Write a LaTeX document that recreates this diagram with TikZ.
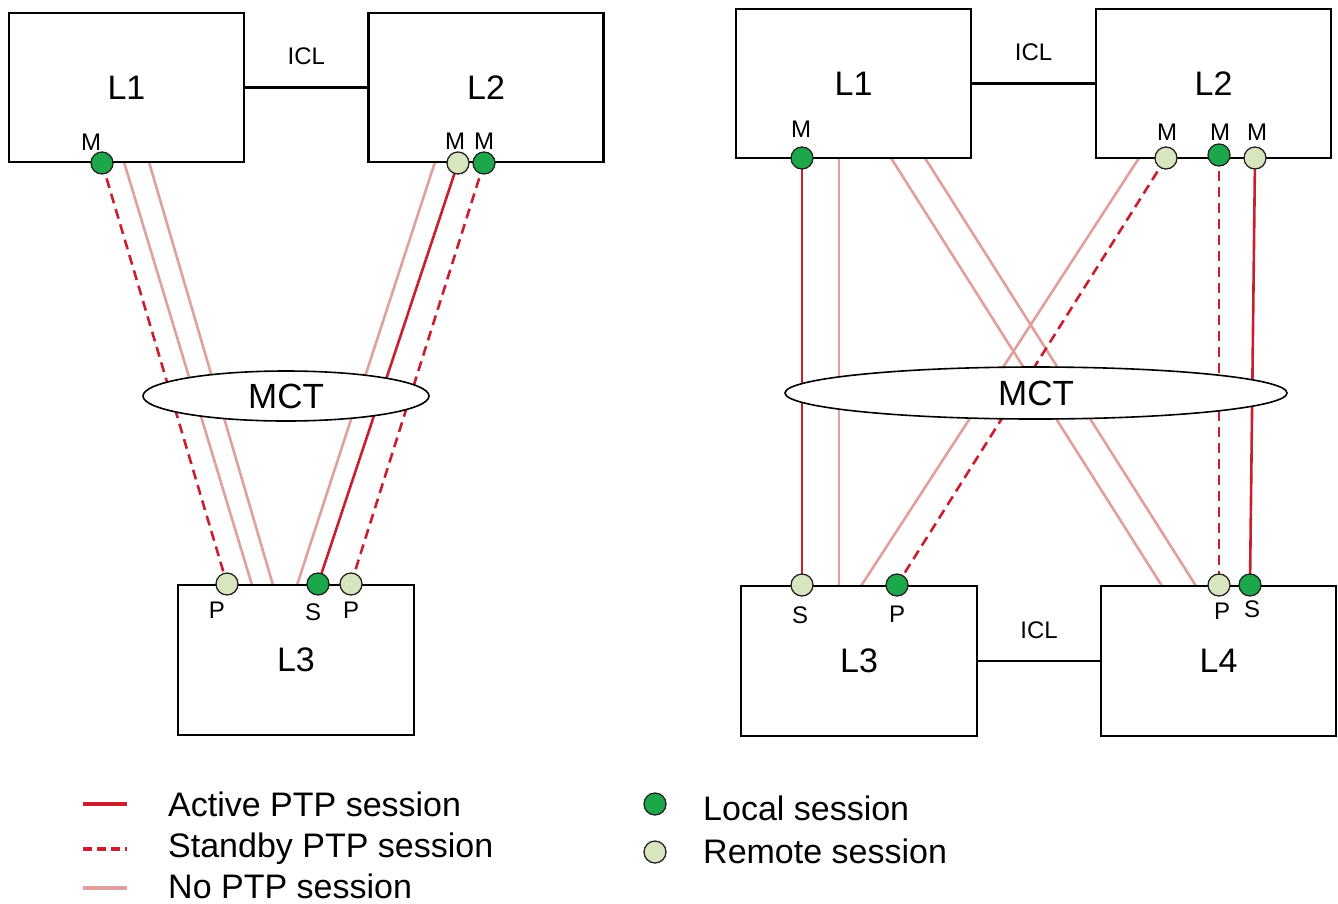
\documentclass[tikz,border=0pt]{standalone}
\usepackage{fontspec}
\setmainfont{Liberation Sans}
\usetikzlibrary{shapes.geometric,backgrounds}
\definecolor{activered}{RGB}{200,30,45}
\definecolor{noptp}{RGB}{225,160,155}
\definecolor{localgreen}{RGB}{28,168,74}
\definecolor{remotegreen}{RGB}{216,230,192}
\definecolor{dotline}{RGB}{35,35,35}
\begin{document}
\begin{tikzpicture}[x=1pt,y=-1pt,
  box/.style={draw=black, line width=2.6pt, fill=white, rectangle, inner sep=0pt,
    minimum width=235pt, minimum height=149pt, font=\fontsize{34}{40}\selectfont},
  icl/.style={black, line width=2.6pt},
  icllabel/.style={above=21pt, inner sep=0pt, font=\fontsize{24}{28}\selectfont},
  mct/.style={ellipse, draw=black, line width=1.6pt, fill=white, inner sep=0pt,
    font=\fontsize{35}{40}\selectfont},
  ldot/.style={circle, draw=dotline, line width=1.3pt, fill=localgreen, minimum size=22pt, inner sep=0pt},
  rdot/.style={circle, draw=dotline, line width=1.3pt, fill=remotegreen, minimum size=22pt, inner sep=0pt},
  lbl/.style={inner sep=0pt, font=\fontsize{24}{28}\selectfont},
  active/.style={draw=activered, line width=2.6pt},
  standby/.style={draw=activered, line width=2.6pt, dash pattern=on 10pt off 6pt},
  nosess/.style={draw=noptp, line width=2.6pt},
  leg/.style={inner sep=0pt, anchor=base west, font=\fontsize{34}{38}\selectfont}
]
\useasboundingbox (0,0) rectangle (1338,903);

% ---------------- left diagram ----------------
\node[box] (A1) at (126.5,87.5) {L1};
\node[box] (A2) at (486,87.5) {L2};
\node[box, minimum width=236pt, minimum height=150pt] (A3) at (296,660) {L3};
\draw[icl] (A1.east) -- node[icllabel] (iclA) {ICL} (A2.west);

\node[ldot] (a1m) at (102,163) {};
\node[rdot] (a2m1) at (458,163) {};
\node[ldot] (a2m2) at (484,163) {};
\node[rdot] (a3p1) at (227,584) {};
\node[ldot] (a3s) at (318,584) {};
\node[rdot] (a3p2) at (351,584) {};

\coordinate (a1n1) at (124,162);
\coordinate (a1n2) at (149,162);
\coordinate (a2n) at (435,162);
\coordinate (a3n1) at (252,585);
\coordinate (a3n2) at (273,585);
\coordinate (a3n3) at (297,585);

\node[lbl] (ta1m) at (91,142) {M};
\node[lbl] (ta2m1) at (455,141) {M};
\node[lbl] (ta2m2) at (484,141) {M};
\node[lbl] (ta3p1) at (217,610) {P};
\node[lbl] (ta3s) at (313,612) {S};
\node[lbl] (ta3p2) at (351,610) {P};

\node[mct, minimum width=286pt, minimum height=50pt] (mctA) at (286,396) {MCT};

% ---------------- right diagram ----------------
\node[box] (B1) at (853.5,83.5) {L1};
\node[box] (B2) at (1213.5,83.5) {L2};
\node[box, minimum width=236pt, minimum height=150pt] (B3) at (859,661) {L3};
\node[box, minimum width=235pt, minimum height=150pt] (B4) at (1218.5,661) {L4};
\draw[icl] (B1.east) -- node[icllabel] (iclB) {ICL} (B2.west);
\draw[icl] (B3.east) -- node[icllabel] (iclC) {ICL} (B4.west);

\node[ldot] (b1m) at (802,158) {};
\node[rdot] (b2m1) at (1166,158) {};
\node[ldot] (b2m2) at (1219,155) {};
\node[rdot] (b2m3) at (1255,158) {};
\node[rdot] (b3s) at (802,585) {};
\node[ldot] (b3p) at (897,585) {};
\node[rdot] (b4p) at (1219,585) {};
\node[ldot] (b4s) at (1250,585) {};

\coordinate (b1n1) at (839,158);
\coordinate (b1n2) at (891,158);
\coordinate (b1n3) at (925,158);
\coordinate (b2n) at (1139,158);
\coordinate (b3n1) at (839,586);
\coordinate (b3n2) at (861,586);
\coordinate (b4n1) at (1162,586);
\coordinate (b4n2) at (1196,586);

\node[lbl] (tb1m) at (801,129) {M};
\node[lbl] (tb2m1) at (1167,132) {M};
\node[lbl] (tb2m2) at (1220,132) {M};
\node[lbl] (tb2m3) at (1257,132) {M};
\node[lbl] (tb3s) at (800,615) {S};
\node[lbl] (tb3p) at (897,614) {P};
\node[lbl] (tb4p) at (1222,611) {P};
\node[lbl] (tb4s) at (1252,609) {S};

\node[mct, minimum width=502pt, minimum height=52pt] (mctB) at (1036,393) {MCT};

% ---------------- connectors (behind) ----------------
\begin{scope}[on background layer]
  \draw[standby] (a1m.center) -- (a3p1.center);
  \draw[nosess] (a1n1) -- (a3n1);
  \draw[nosess] (a1n2) -- (a3n2);
  \draw[nosess] (a2n) -- (a3n3);
  \draw[active] (a2m1.center) -- (a3s.center);
  \draw[standby] (a2m2.center) -- (a3p2.center);

  \draw[active] (b1m.center) -- (b3s.center);
  \draw[nosess] (b1n1) -- (b3n1);
  \draw[nosess] (b1n2) -- (b4n1);
  \draw[nosess] (b1n3) -- (b4n2);
  \draw[nosess] (b2n) -- (b3n2);
  \draw[standby] (b2m1.center) -- (b3p.center);
  \draw[standby] (b2m2.center) -- (b4p.center);
  \draw[active] (b2m3.center) -- (b4s.center);
\end{scope}

% ---------------- legend ----------------
\coordinate (la1) at (83,804);
\coordinate (la2) at (127,804);
\coordinate (ls1) at (83,849);
\coordinate (ls2) at (127,849);
\coordinate (ln1) at (83,888);
\coordinate (ln2) at (127,888);
\draw[active, line width=3.4pt] (la1) -- (la2);
\draw[standby, line width=3.4pt, dash pattern=on 9pt off 5pt] (ls1) -- (ls2);
\draw[nosess, line width=3.4pt] (ln1) -- (ln2);
\node[leg] (tact) at (168,816) {Active PTP session};
\node[leg] (tsta) at (168,857) {Standby PTP session};
\node[leg] (tnop) at (168,898) {No PTP session};

\node[ldot] (legl) at (655,804) {};
\node[rdot] (legr) at (655,852) {};
\node[leg] (tloc) at (703,820) {Local session};
\node[leg] (trem) at (703,863) {Remote session};
\end{tikzpicture}
\end{document}
